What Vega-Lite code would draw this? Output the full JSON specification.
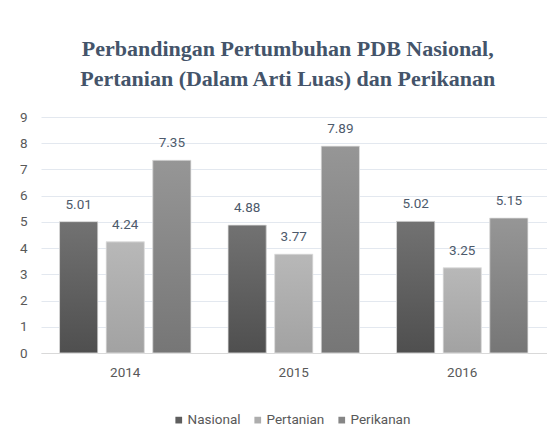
{
  "$schema": "https://vega.github.io/schema/vega-lite/v6.json",
  "autosize": "none",
  "width": 505.5,
  "height": 236,
  "padding": {"left": 41, "top": 117, "right": 4.5, "bottom": 87},
  "background": "white",
  "title": {
    "text": ["Perbandingan Pertumbuhan PDB Nasional,", "Pertanian (Dalam Arti Luas) dan Perikanan"],
    "font": "Liberation Serif",
    "fontSize": 22,
    "fontWeight": "bold",
    "color": "#44546a",
    "anchor": "middle",
    "dx": -6,
    "lineHeight": 30,
    "offset": 19
  },
  "data": {
    "values": [
      {"year": "2014", "series": "Nasional", "value": 5.01},
      {"year": "2014", "series": "Pertanian", "value": 4.24},
      {"year": "2014", "series": "Perikanan", "value": 7.35},
      {"year": "2015", "series": "Nasional", "value": 4.88},
      {"year": "2015", "series": "Pertanian", "value": 3.77},
      {"year": "2015", "series": "Perikanan", "value": 7.89},
      {"year": "2016", "series": "Nasional", "value": 5.02},
      {"year": "2016", "series": "Pertanian", "value": 3.25},
      {"year": "2016", "series": "Perikanan", "value": 5.15}
    ]
  },
  "encoding": {
    "x": {
      "field": "year", "type": "nominal",
      "scale": {"paddingInner": 0.22, "paddingOuter": 0.11},
      "axis": {"title": null, "labelAngle": 0, "ticks": false, "domain": true, "domainColor": "#d9d9d9", "labelPadding": 12, "labelFont": "Roboto", "labelFontSize": 13.5, "labelColor": "#595959"}
    },
    "xOffset": {"field": "series", "type": "nominal", "sort": ["Nasional", "Pertanian", "Perikanan"], "scale": {"domain": ["Nasional", "Pertanian", "Perikanan"], "paddingInner": 0.18, "paddingOuter": 0}},
    "y": {
      "field": "value", "type": "quantitative",
      "scale": {"domain": [0, 9]},
      "axis": {"title": null, "values": [0,1,2,3,4,5,6,7,8,9], "ticks": false, "domain": false, "gridColor": "#e3e8ef", "labelPadding": 14, "labelFont": "Roboto", "labelFontSize": 13.5, "labelColor": "#595959"}
    }
  },
  "layer": [
    {
      "mark": {"type": "bar"},
      "encoding": {
        "color": {
          "field": "series", "type": "nominal",
          "sort": ["Nasional", "Pertanian", "Perikanan"],
          "scale": {
            "domain": ["Nasional", "Pertanian", "Perikanan"],
            "range": ["#5e5e5e", "#adadad", "#868686"]
          },
          "legend": {
            "title": null, "orient": "none", "direction": "horizontal",
            "legendX": 131, "legendY": 296,
            "symbolType": "square", "symbolSize": 45, "symbolStrokeWidth": 0, "symbolOpacity": 1,
            "labelFont": "Roboto",
            "labelFontSize": 13.5, "labelColor": "#595959",
            "columnPadding": 10, "labelOffset": 2, "padding": 0
          }
        }
      }
    },
    {
      "transform": [{"filter": "datum.series === 'Nasional'"}],
      "mark": {"type": "bar", "stroke": "#e6e6e6", "strokeWidth": 0.8, "color": {"gradient": "linear", "x1": 0, "y1": 0, "x2": 0, "y2": 1, "stops": [{"offset": 0, "color": "#727272"}, {"offset": 1, "color": "#4f4f4f"}]}},
      "encoding": {}
    },
    {
      "transform": [{"filter": "datum.series === 'Pertanian'"}],
      "mark": {"type": "bar", "stroke": "#e6e6e6", "strokeWidth": 0.8, "color": {"gradient": "linear", "x1": 0, "y1": 0, "x2": 0, "y2": 1, "stops": [{"offset": 0, "color": "#b8b8b8"}, {"offset": 1, "color": "#a2a2a2"}]}},
      "encoding": {}
    },
    {
      "transform": [{"filter": "datum.series === 'Perikanan'"}],
      "mark": {"type": "bar", "stroke": "#e6e6e6", "strokeWidth": 0.8, "color": {"gradient": "linear", "x1": 0, "y1": 0, "x2": 0, "y2": 1, "stops": [{"offset": 0, "color": "#969696"}, {"offset": 1, "color": "#767676"}]}},
      "encoding": {}
    },
    {
      "mark": {"type": "text", "baseline": "alphabetic", "dy": -13, "font": "Roboto", "fontSize": 13.5, "color": "#4d5a6c"},
      "encoding": {
        "text": {"field": "value", "type": "quantitative", "format": ".2f"}
      }
    }
  ],
  "config": {"view": {"stroke": null}}
}
